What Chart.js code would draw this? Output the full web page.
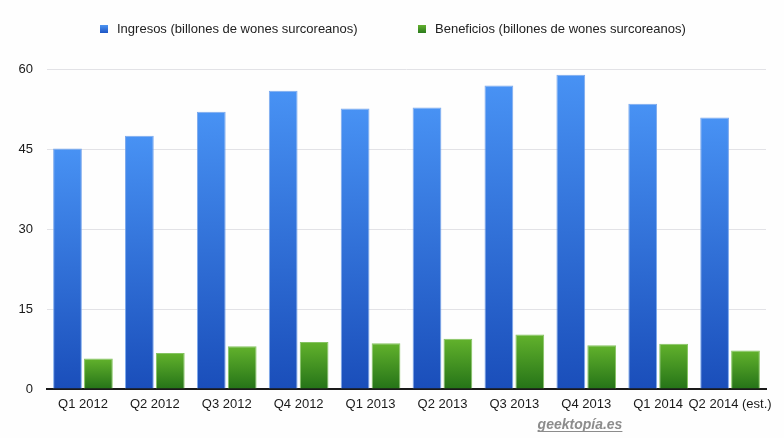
<!DOCTYPE html>
<html>
<head>
<meta charset="utf-8">
<script src="https://cdn.jsdelivr.net/npm/chart.js@4/dist/chart.umd.min.js"></script>
<style>
  html, body { margin: 0; padding: 0; background: #fefefe; }
  #wrap { width: 784px; height: 438px; position: relative; }
</style>
</head>
<body>
<div id="wrap"><canvas id="myChart" width="784" height="438"></canvas></div>
<script>
var quarters = ['Q1 2012', 'Q2 2012', 'Q3 2012', 'Q4 2012', 'Q1 2013', 'Q2 2013', 'Q3 2013', 'Q4 2013', 'Q1 2014', 'Q2 2014 (est.)'];
var ingresos = [45.1, 47.5, 52.0, 55.9, 52.6, 52.8, 56.9, 58.9, 53.5, 50.9];
var beneficios = [5.7, 6.75, 8.0, 8.8, 8.6, 9.4, 10.2, 8.2, 8.5, 7.2];
var yTicks = [0, 15, 30, 45, 60];
var seriesNames = ['Ingresos (billones de wones surcoreanos)', 'Beneficios (billones de wones surcoreanos)'];

var FONT = '"Liberation Sans", Arial, sans-serif';

// gradient per bar, from its top down to the baseline
function barGradient(top, bottom) {
  return function (context) {
    var chart = context.chart;
    if (!chart.chartArea || context.parsed == null) return top;
    var y = chart.scales.y;
    var y0 = y.getPixelForValue(context.parsed.y);
    var y1 = y.getPixelForValue(0);
    if (y1 - y0 < 1) return top;
    var g = chart.ctx.createLinearGradient(0, y0, 0, y1);
    g.addColorStop(0, top);
    g.addColorStop(1, bottom);
    return g;
  };
}

var legendAndMark = {
  id: 'legendAndMark',
  afterDraw: function (chart) {
    var ctx = chart.ctx;
    ctx.save();
    // legend
    var items = [
      { x: 100, top: '#4d95f2', bottom: '#1d55c4', text: seriesNames[0] },
      { x: 418, top: '#63b02e', bottom: '#2b7b1d', text: seriesNames[1] }
    ];
    items.forEach(function (it) {
      var g = ctx.createLinearGradient(0, 25, 0, 33);
      g.addColorStop(0, it.top);
      g.addColorStop(1, it.bottom);
      ctx.fillStyle = g;
      ctx.fillRect(it.x, 25, 8, 8);
      ctx.fillStyle = '#222';
      ctx.font = '13px ' + FONT;
      ctx.textBaseline = 'middle';
      ctx.textAlign = 'left';
      ctx.fillText(it.text, it.x + 17, 29);
    });
    // watermark
    ctx.font = 'italic bold 14px ' + FONT;
    ctx.fillStyle = '#8c8c8c';
    ctx.textAlign = 'center';
    ctx.textBaseline = 'alphabetic';
    var wm = 'geektopía.es';
    ctx.fillText(wm, 580, 429);
    var w = ctx.measureText(wm).width;
    ctx.fillRect(580 - w / 2, 431, w, 1);
    ctx.restore();
  }
};

var ctx = document.getElementById('myChart').getContext('2d');

var myChart = new Chart(ctx, {
  type: 'bar',
  data: {
    labels: quarters,
    datasets: [
      {
        label: seriesNames[0],
        data: ingresos,
        backgroundColor: barGradient('#4892f4', '#1a4eba'),
        borderColor: 'rgba(110,160,235,0.9)',
        borderWidth: 1,
        categoryPercentage: 0.86,
        barPercentage: 0.93
      },
      {
        label: seriesNames[1],
        data: beneficios,
        backgroundColor: barGradient('#62b22c', '#257318'),
        borderColor: 'rgba(120,190,80,0.9)',
        borderWidth: 1,
        categoryPercentage: 0.86,
        barPercentage: 0.93
      }
    ]
  },
  options: {
    responsive: false,
    animation: false,
    layout: { padding: { top: 69, right: 18, left: 0, bottom: 0 } },
    plugins: {
      legend: { display: false },
      tooltip: { enabled: false }
    },
    scales: {
      x: {
        grid: { display: false },
        border: { display: true, color: '#1a1a1a', width: 2 },
        ticks: {
          color: '#1a1a1a',
          font: { family: FONT, size: 13 },
          padding: 0,
          maxRotation: 0,
          autoSkip: false
        },
        afterFit: function (scale) { scale.height = 49; }
      },
      y: {
        min: 0,
        max: 60,
        afterBuildTicks: function (scale) {
          scale.ticks = yTicks.map(function (v) { return { value: v }; });
        },
        grid: { color: '#e2e2e6', lineWidth: 1, drawTicks: false },
        border: { display: false },
        ticks: {
          color: '#1a1a1a',
          font: { family: FONT, size: 13 },
          padding: 14
        },
        afterFit: function (scale) { scale.width = 47; }
      }
    }
  },
  plugins: [legendAndMark]
});
</script>
</body>
</html>
